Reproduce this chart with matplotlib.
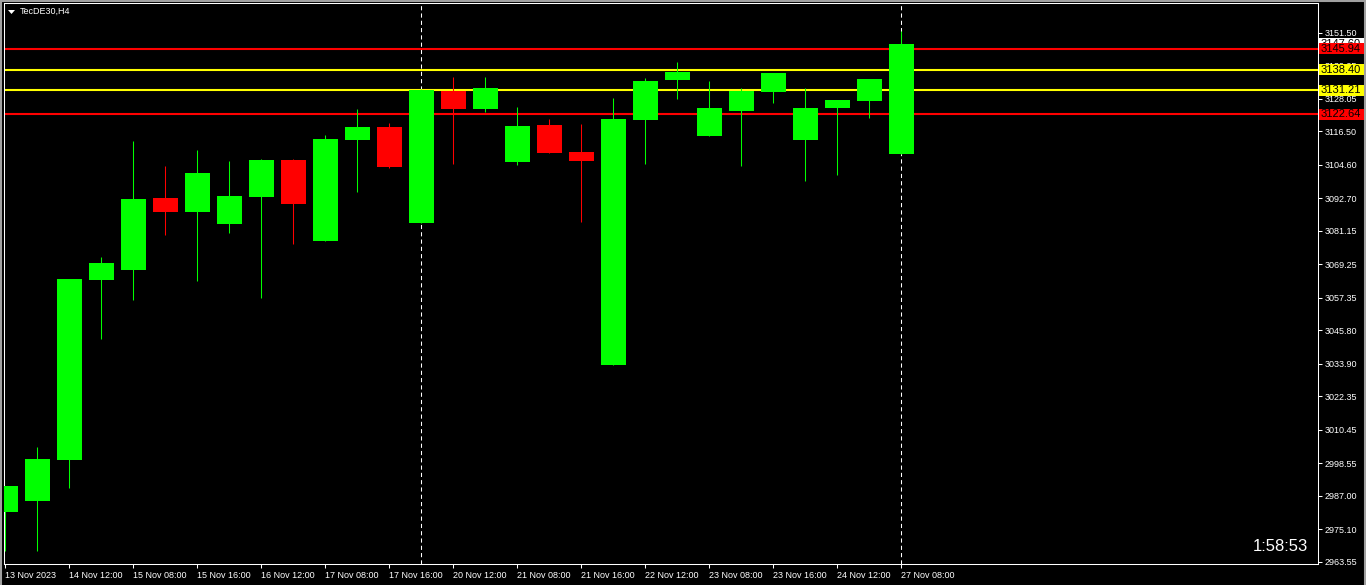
import matplotlib
matplotlib.use('Agg')
import matplotlib.pyplot as plt
from matplotlib.patches import Rectangle, Polygon
from matplotlib.transforms import blended_transform_factory

plt.rcParams['font.family'] = ['Liberation Sans', 'DejaVu Sans']

# TecDE30 H4 candles
opens = [2981.32, 2985.23, 2999.81, 3063.80, 3067.35, 3092.84, 3087.97, 3083.70,
         3093.30, 3106.35, 3077.66, 3113.57, 3118.08, 3084.06, 3130.88, 3124.48,
         3105.64, 3118.79, 3109.19, 3033.47, 3120.57, 3134.79, 3114.88, 3123.77,
         3130.52, 3113.46, 3124.84, 3127.32, 3108.48]
highs = [2990.46, 3004.32, 3064.05, 3071.87, 3113.10, 3104.22, 3109.90, 3105.99,
         3106.60, 3106.60, 3115.24, 3124.48, 3119.50, 3131.60, 3135.86, 3135.86,
         3125.19, 3120.92, 3119.15, 3128.39, 3135.50, 3141.19, 3134.43, 3131.95,
         3137.28, 3131.95, 3127.68, 3135.15, 3152.21]
lows = [2967.46, 2967.46, 2989.85, 3042.82, 3056.69, 3079.79, 3063.44, 3080.51,
        3057.40, 3076.59, 3077.50, 3095.08, 3103.61, 3084.00, 3105.03, 3123.52,
        3104.57, 3108.84, 3084.42, 3033.47, 3104.93, 3128.03, 3114.88, 3104.32,
        3126.61, 3098.99, 3101.13, 3121.28, 3108.48]
closes = [2990.46, 3000.06, 3064.05, 3069.73, 3092.49, 3087.97, 3101.73, 3093.55,
          3106.35, 3090.81, 3113.82, 3118.08, 3103.97, 3131.41, 3124.59, 3131.95,
          3118.44, 3108.84, 3106.00, 3120.92, 3134.43, 3137.63, 3124.84, 3130.99,
          3137.28, 3124.84, 3127.68, 3135.15, 3147.60]

date_labels = ['13 Nov 2023', '14 Nov 12:00', '15 Nov 08:00', '15 Nov 16:00',
               '16 Nov 12:00', '17 Nov 08:00', '17 Nov 16:00', '20 Nov 12:00',
               '21 Nov 08:00', '21 Nov 16:00', '22 Nov 12:00', '23 Nov 08:00',
               '23 Nov 16:00', '24 Nov 12:00', '27 Nov 08:00']
price_ticks = [3151.50, 3139.95, 3128.05, 3116.50, 3104.60, 3092.70, 3081.15,
               3069.25, 3057.35, 3045.80, 3033.90, 3022.35, 3010.45, 2998.55,
               2987.00, 2975.10, 2963.55]
separators = [13, 28]
red_levels = [3145.94, 3122.64]
yellow_levels = [3138.40, 3131.21]
bid = 3147.60
timer = '1:58:53'

W, H = 1366, 585
fig = plt.figure(figsize=(W / 100, H / 100), dpi=100, facecolor='black')
ax = fig.add_axes([4 / W, 1 - 564 / H, 1314 / W, 561 / H], facecolor='black')

x = list(range(len(opens)))
GREEN, RED = '#00ff00', '#ff0000'
colors = [GREEN if c >= o else RED for o, c in zip(opens, closes)]

ax.vlines(x, lows, highs, colors=colors, linewidth=0.75, zorder=3)
bottoms = [min(o, c) for o, c in zip(opens, closes)]
heights = [abs(c - o) for o, c in zip(opens, closes)]
ax.bar(x, heights, bottom=bottoms, width=0.77, color=colors, edgecolor='none',
       zorder=4)

for s in separators:
    ax.axvline(s, color='white', linewidth=0.75, linestyle=(0, (4, 3)), zorder=1)
for lv in red_levels:
    ax.axhline(lv, color=RED, linewidth=1.5, zorder=2)
for lv in yellow_levels:
    ax.axhline(lv, color='#ffff00', linewidth=1.5, zorder=2)

ax.set_xlim(-0.04, 41.02)
ax.set_ylim(2962.73, 3162.16)

ax.set_xticks(x[::2])
ax.set_xticklabels(date_labels)
for lab in ax.get_xticklabels():
    lab.set_horizontalalignment('left')
ax.set_yticks(price_ticks)
ax.set_yticklabels(['%.2f' % p for p in price_ticks])
ax.yaxis.tick_right()
ax.tick_params(axis='both', colors='white', labelsize=6.5, length=3, width=0.75)
ax.tick_params(axis='x', pad=2)
ax.tick_params(axis='y', pad=1.5)
for sp in ax.spines.values():
    sp.set_color('white')
    sp.set_linewidth(0.75)

# price labels on the right scale, drawn at figure level so they sit over the tick labels
trans = blended_transform_factory(fig.transFigure, ax.transData)
box_h = 11 * (3162.16 - 2962.73) / 561
def price_label(p, fc, z):
    fig.add_artist(Rectangle((1319 / W, p - box_h / 2), 45 / W, box_h, transform=trans,
                             facecolor=fc, edgecolor='none', zorder=z))
    fig.add_artist(plt.Text(1321 / W, p, '%.2f' % p, transform=trans, ha='left',
                            va='center', fontsize=8, color='black', zorder=z + 0.5))

price_label(bid, 'white', 10)
z = 11
for lv in red_levels:
    price_label(lv, RED, z)
    z += 1
for lv in yellow_levels:
    price_label(lv, '#ffff00', z)
    z += 1

# symbol title and countdown
fig.add_artist(Polygon([[8 / W, 1 - 10 / H], [15 / W, 1 - 10 / H], [11.5 / W, 1 - 14 / H]],
                       closed=True, transform=fig.transFigure, facecolor='white',
                       edgecolor='none'))
fig.text(20 / W, 1 - 11.5 / H, 'TecDE30,H4', color='white', fontsize=6.5,
         ha='left', va='center')
fig.text(1308 / W, 1 - 551 / H, timer, color='white', fontsize=12,
         ha='right', va='baseline')

# window frame
for xs, ys in [([1 / W, 1 / W], [0, 1]), ([0, 1], [1 - 1 / H, 1 - 1 / H]),
               ([1 - 1 / W, 1 - 1 / W], [0, 1])]:
    fig.add_artist(plt.Line2D(xs, ys, transform=fig.transFigure, color='#a0a0a0',
                              linewidth=1.5))

fig.savefig('out.png', dpi=100, facecolor='black')
